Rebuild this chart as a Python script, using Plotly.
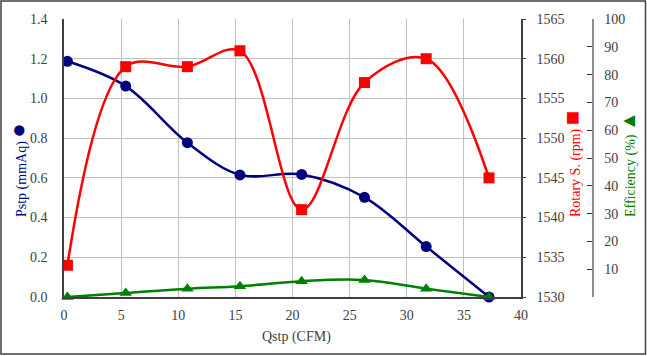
import plotly.graph_objects as go

# Data
qstp = [0.3, 5.4, 10.8, 15.4, 20.8, 26.3, 31.7, 37.2]
pstp = [1.187, 1.062, 0.777, 0.615, 0.617, 0.502, 0.254, 0.0]
rotary = [1534.0, 1559.0, 1559.0, 1561.0, 1541.0, 1557.0, 1560.0, 1545.0]
efficiency = [0.0, 1.4, 3.0, 3.9, 5.7, 6.1, 3.0, 0.0]

eff_tickvals = [0, 10, 20, 30, 40, 50, 60, 70, 80, 90, 100]
eff_ticktext = [""] + [str(v) for v in eff_tickvals[1:]]

W, H = 647, 356
ML, MR, MT, MB = 64, 40, 19, 59
PW = W - ML - MR
PH = H - MT - MB
XD = (521 - ML) / PW

def px_x(p):
    return (p - ML) / PW

def px_y(p):
    return (H - MB - p) / PH

FONT = "Liberation Serif, Times New Roman, serif"
TICKC = "#404040"
GRID = "#c0c0c0"
NAVY = "#000080"
RED = "#ff0000"
GREEN = "#008000"

fig = go.Figure()

fig.add_trace(go.Scatter(
    x=qstp, y=efficiency, yaxis="y3", mode="lines+markers",
    line=dict(color=GREEN, width=2.5, shape="spline", smoothing=1),
    marker=dict(symbol="triangle-up", size=11, color=GREEN),
    cliponaxis=False, showlegend=False))

fig.add_trace(go.Scatter(
    x=qstp, y=rotary, yaxis="y2", mode="lines+markers",
    line=dict(color=RED, width=2.5, shape="spline", smoothing=1),
    marker=dict(symbol="square", size=11, color=RED),
    cliponaxis=False, showlegend=False))

fig.add_trace(go.Scatter(
    x=qstp, y=pstp, yaxis="y", mode="lines+markers",
    line=dict(color=NAVY, width=2.5, shape="spline", smoothing=1),
    marker=dict(symbol="circle", size=11, color=NAVY),
    cliponaxis=False, showlegend=False))

tickfont = dict(family=FONT, size=14, color=TICKC)

def title_ann(text, x, y, color, angle=-90):
    return dict(text=text, xref="paper", yref="paper",
                x=px_x(x), y=px_y(y), xanchor="center", yanchor="middle",
                textangle=angle, showarrow=False,
                font=dict(family=FONT, size=14, color=color))

fig.update_layout(
    width=W, height=H,
    margin=dict(l=ML, r=MR, t=MT, b=MB, pad=0),
    paper_bgcolor="white", plot_bgcolor="white",
    font=dict(family=FONT, size=14, color=TICKC),
    xaxis=dict(
        domain=[0, XD], range=[0, 40], dtick=5, tick0=0,
        showgrid=True, gridcolor=GRID, gridwidth=1,
        showline=True, linecolor=TICKC, linewidth=1.5,
        ticks="", zeroline=False, tickfont=tickfont,
        ticklabelstandoff=4,
    ),
    yaxis=dict(
        range=[0, 1.4], dtick=0.2, tick0=0, tickformat=".1f",
        showgrid=True, gridcolor=GRID, gridwidth=1,
        showline=True, linecolor=TICKC, linewidth=1.5,
        ticks="", zeroline=False, tickfont=tickfont,
        ticklabelstandoff=12,
    ),
    yaxis2=dict(
        overlaying="y", side="right", anchor="x",
        range=[1530, 1565], dtick=5, tick0=1530,
        showgrid=False, showline=True, linecolor=TICKC, linewidth=1.5,
        ticks="outside", ticklen=3, tickcolor=TICKC,
        zeroline=False, tickfont=tickfont, ticklabelstandoff=8,
    ),
    yaxis3=dict(
        overlaying="y", side="right", anchor="free", position=px_x(592.5),
        range=[0, 100], tickvals=eff_tickvals, ticktext=eff_ticktext,
        showgrid=False, showline=True, linecolor="#8c8c8c", linewidth=2,
        ticks="inside", ticklen=5, tickcolor="#333333",
        zeroline=False, tickfont=tickfont, ticklabelstandoff=8,
    ),
    shapes=[dict(
        type="rect", xref="paper", yref="paper",
        x0=px_x(1), x1=px_x(645.5), y0=px_y(354), y1=px_y(1),
        line=dict(color="#404040", width=1.5), fillcolor="rgba(0,0,0,0)",
    )],
    annotations=[
        title_ann("Qstp (CFM)", 296, 337, TICKC, angle=0),
        title_ann("Pstp (mmAq) <span style='font-size:24px'>●</span>", 18, 170, NAVY),
        title_ann("Rotary S. (rpm) <span style='font-size:24px'>■</span>", 572, 164, RED),
        title_ann("Efficiency (%) <span style='font-size:20px'>▲</span>", 628, 164, GREEN),
    ],
)

fig.write_html(
    "out.html",
    config={"displayModeBar": False},
    post_script="document.body.style.margin='0px';document.body.style.overflow='hidden';",
)
